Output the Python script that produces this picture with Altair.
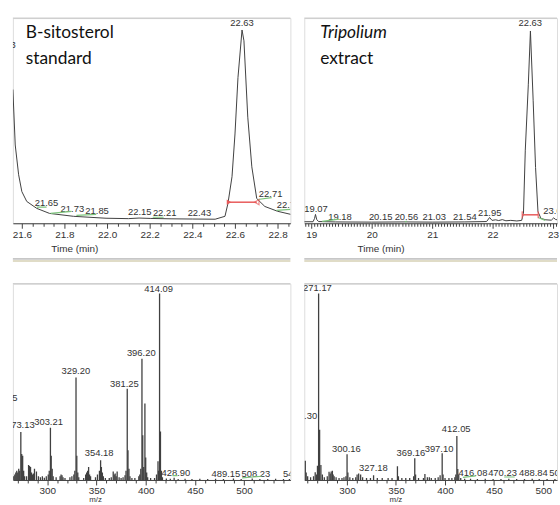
import altair as alt
import pandas as pd

# ---------------- data ----------------
# Top-left chromatogram (B-sitosterol standard): time (min), relative intensity (%)
tl_time = [21.558, 21.569, 21.585, 21.600, 21.623, 21.670, 21.730, 21.842, 21.995, 22.100, 22.150, 22.205,
           22.300, 22.400, 22.507, 22.553, 22.567, 22.586, 22.600, 22.614, 22.633, 22.642, 22.660, 22.679,
           22.702, 22.740, 22.800, 22.862]
tl_int = [69.2, 40.5, 25.1, 16.4, 11.3, 7.7, 5.1, 3.6, 2.6, 2.4, 2.7, 2.5,
          2.3, 2.2, 2.1, 3.6, 10.3, 24.1, 46.2, 75.4, 100.0, 94.4, 54.9, 29.2,
          12.8, 8.7, 6.2, 4.6]
tl_lbl_text = ["21.53", "21.65", "21.73", "21.85", "22.15", "22.21", "22.43", "22.63", "22.71", "22.77"]
tl_lbl_time = [21.516, 21.716, 21.837, 21.953, 22.153, 22.270, 22.433, 22.633, 22.767, 22.851]
tl_lbl_int = [92.3, 10.3, 7.5, 6.2, 5.6, 5.3, 5.3, 103.6, 15.0, 9.2]
tl_green_t1 = [21.670, 21.735, 21.856, 22.214, 22.707, 22.795]
tl_green_t2 = [21.716, 21.833, 21.949, 22.265, 22.772, 22.860]
tl_green_i1 = [8.4, 5.1, 4.1, 3.1, 12.3, 6.7]
tl_green_i2 = [8.4, 6.2, 4.6, 3.1, 13.3, 7.2]
tl_red = [22.572, 22.702, 10.9]

# Top-right chromatogram (Tripolium extract)
tr_time = [18.885, 19.030, 19.055, 19.070, 19.090, 19.120, 19.400, 20.000, 20.560, 21.000, 21.540, 21.900,
           21.950, 21.990, 22.050, 22.100, 22.160, 22.220, 22.300, 22.400, 22.480, 22.510, 22.540, 22.590,
           22.625, 22.670, 22.710, 22.750, 22.800, 22.880, 22.970, 23.010, 23.040, 23.066]
tr_int = [0.8, 0.8, 2.5, 4.6, 2.0, 0.9, 0.7, 0.6, 0.7, 0.6, 0.7, 0.9,
          3.0, 1.5, 1.8, 1.4, 1.9, 1.3, 1.5, 1.2, 1.5, 5.0, 38.0, 72.0,
          100.0, 64.0, 29.0, 6.0, 2.5, 1.8, 1.6, 2.8, 2.0, 1.8]
tr_lbl_text = ["19.07", "19.18", "20.15", "20.56", "21.03", "21.54", "21.95", "22.63", "23.03"]
tr_lbl_time = [19.078, 19.475, 20.148, 20.574, 21.033, 21.541, 21.951, 22.623, 23.033]
tr_lbl_int = [7.6, 3.1, 3.1, 3.1, 3.1, 3.1, 5.5, 104.1, 6.2]
tr_green_t1 = [19.18, 20.55, 22.754]
tr_green_t2 = [19.46, 20.58, 22.870]
tr_green_i1 = [1.0, 0.7, 3.0]
tr_green_i2 = [2.2, 1.2, 1.5]
tr_red = [22.490, 22.754, 4.4]

# Bottom-left mass spectrum (standard): m/z, relative abundance (%)
bl_mz = [266, 267, 268, 269, 270, 271, 272, 273.13, 274, 275, 276, 277, 279, 281, 282, 283, 284, 285, 286, 287,
         289, 291, 293, 295, 297, 299, 301, 302, 303.21, 304, 305, 306, 309, 313, 314, 315, 316, 318, 323, 325,
         327, 328, 329.20, 330, 331, 332, 337, 339, 340, 341, 342, 343, 344, 349, 351, 353, 354.18, 355, 356, 357,
         359, 363, 365, 367, 368, 369, 370, 371, 373, 375, 377, 379, 380, 381.25, 382, 383, 384, 386, 389, 393,
         394, 395, 396.20, 397, 398, 399.2, 400, 401, 402, 405, 409, 411, 412.5, 413, 414.09, 415, 416, 417, 421, 425,
         428.90, 433, 440, 447, 455, 463, 471, 479, 489.15, 497, 508.23, 516, 524, 532, 540, 546]
bl_ab = [2, 3, 4, 5, 4, 6, 5, 25.7, 14, 13, 5, 2, 2, 8, 7.5, 7, 4, 3, 3.5, 6,
         4.5, 2, 1.5, 2, 1.2, 2, 3, 5, 28, 13, 6, 2, 1.5, 2, 3, 2.5, 1.5, 1, 1.5, 2,
         3, 5, 55, 13, 4, 1.5, 1, 3, 4, 5, 7, 3, 2, 1.5, 3, 5, 10.6, 7, 4, 2,
         1, 1, 1.5, 4.5, 3, 3.5, 2, 4.5, 1.5, 1, 1.5, 2.5, 5, 49, 16, 6, 2, 1, 1, 2,
         3, 6, 65, 24, 7, 41, 12, 4, 1.5, 1, 1, 3, 10, 5, 100, 26, 5, 1.5, 0.8, 0.6,
         1.2, 0.5, 0.6, 0.5, 0.6, 0.5, 0.6, 0.5, 0.8, 0.5, 0.8, 0.5, 0.5, 0.6, 0.5, 0.5]
bl_lbl_text = ["255.25", "273.13", "303.21", "329.20", "354.18", "381.25", "396.20", "414.09", "428.90",
               "489.15", "508.23", "549.12"]
bl_lbl_mz = [255.0, 272.6, 301.3, 329.0, 352.7, 378.3, 395.5, 413.1, 430.7, 481.5, 512.0, 554.0]
bl_lbl_ab = [44.1, 29.3, 31.0, 58.5, 14.2, 51.6, 67.9, 102.5, 3.7, 3.2, 3.2, 3.2]
bl_green_m1 = [427.3, 498.0]
bl_green_m2 = [432.4, 518.0]
bl_green_a1 = [2.3, 1.1]
bl_green_a2 = [2.3, 2.0]

# Bottom-right mass spectrum (extract)
br_mz = [257.6, 258.5, 260, 263, 266, 267.7, 269, 270, 271.17, 272.2, 273.5, 275, 277, 280, 281.8, 283, 284, 285.2,
         286, 287, 289, 292, 295, 297, 299, 300.16, 301, 303, 306, 309, 310.4, 312, 314, 316, 320, 324, 327.18, 331,
         336, 342, 346, 351.5, 352.5, 356, 360, 364, 368, 369.16, 370, 373, 378, 379.5, 382, 384, 386, 390, 393,
         395, 397.10, 398, 400, 404, 407, 410, 411, 412.05, 413, 414, 416, 420, 426, 433, 441, 449, 457, 465, 473,
         481, 488.84, 496, 504, 512]
br_ab = [10.3, 4, 2, 1.5, 2, 4.2, 3, 7.6, 100, 27, 8, 3, 1.5, 2, 4.4, 3.5, 4.5, 5,
         3, 2, 1.5, 1, 1, 1.5, 2, 13.8, 4, 1.5, 1, 1.5, 3, 3.5, 3, 1.5, 1, 1, 2.5, 1,
         1, 1, 1, 7.3, 2, 1, 1, 1, 2, 11.7, 3, 1, 1, 3.2, 1.5, 1.5, 1, 1, 1.5,
         2.5, 14.4, 3, 1, 1, 1, 1.5, 3, 23.6, 5.9, 3, 1, 0.7, 0.6, 0.5, 0.6, 0.5, 0.5, 0.6, 0.5,
         0.5, 0.7, 0.5, 0.5, 0.5]
br_lbl_text = ["255.30", "271.17", "300.16", "327.18", "369.16", "397.10", "412.05", "416.08", "470.23",
               "488.84", "507.91"]
br_lbl_mz = [255.0, 270.0, 299.5, 327.0, 365.2, 393.9, 411.4, 428.5, 458.6, 490.0, 521.0]
br_lbl_ab = [34.2, 103.0, 16.8, 6.2, 14.7, 16.8, 27.1, 3.5, 3.5, 3.5, 3.5]
br_green_m1 = [418.2, 460.3, 517.0]
br_green_m2 = [431.3, 471.0, 524.0]
br_green_a1 = [1.4, 1.6, 1.6]
br_green_a2 = [2.2, 1.6, 1.6]

# ---------------- styling ----------------
SMALL = "Liberation Sans, Arial, sans-serif"
BIG = "Lato, Open Sans, sans-serif"
INK = "#404040"
BG = "#f0f0f0"
ONE = pd.DataFrame({"k": [0]})


def xscale(dom):
    return alt.Scale(domain=dom, nice=False, zero=False)


def major_axis(values, fmt, title, tx, ty, tbase, tsize):
    return alt.Axis(orient="bottom", values=values, format=fmt, title=title, titleX=tx, titleY=ty,
                    titleAlign="center", titleBaseline=tbase, titleFont=SMALL, titleFontSize=tsize,
                    titleFontWeight="normal", titleColor="#333333", labelFont=SMALL, labelFontSize=10,
                    labelColor="#333333", labelPadding=1, labelFlush=False, labelOverlap=False,
                    tickSize=5, tickColor=INK, domainColor=INK, grid=False)


def minor_axis(values):
    return alt.Axis(orient="bottom", values=values, labels=False, domain=False, title="",
                    tickSize=3, tickColor=INK, grid=False)


def panel(kind, xs, ys, dom, ymax, W, H, majors, minors, fmt, title, tx, ty, tbase, tsize,
          lbl, green, red, texts, separator):
    yscale = alt.Scale(domain=[0, ymax], nice=False, zero=False)
    df = pd.DataFrame({"x": xs, "y": ys})
    if kind == "line":
        main = alt.Chart(df).mark_line(color=INK, strokeWidth=1, clip=True).encode(
            x=alt.X("x:Q", scale=xscale(dom), axis=major_axis(majors, fmt, title, tx, ty, tbase, tsize)),
            y=alt.Y("y:Q", scale=yscale, axis=None))
    else:
        main = alt.Chart(df).mark_rule(color=INK, strokeWidth=1.3, clip=True).encode(
            x=alt.X("x:Q", scale=xscale(dom), axis=major_axis(majors, fmt, title, tx, ty, tbase, tsize)),
            y=alt.Y("y:Q", scale=yscale, axis=None),
            y2=alt.datum(0))
    ldf = pd.DataFrame({"x": lbl[1], "y": lbl[2], "t": lbl[0]})
    labels = alt.Chart(ldf).mark_text(font=SMALL, fontSize=9.5, color="#333333", clip=True,
                                      baseline="middle", align="center").encode(
        x=alt.X("x:Q", scale=xscale(dom), axis=minor_axis(minors)),
        y=alt.Y("y:Q", scale=yscale, axis=None),
        text="t:N")
    gdf = pd.DataFrame({"x1": green[0], "x2": green[1], "y1": green[2], "y2": green[3]})
    greens = alt.Chart(gdf).mark_rule(color="#7cc47c", strokeWidth=1.2, clip=True).encode(
        x=alt.X("x1:Q", scale=xscale(dom), axis=None), x2="x2:Q",
        y=alt.Y("y1:Q", scale=yscale, axis=None), y2="y2:Q")
    layers = [main, labels, greens]
    if red is not None:
        rdf = pd.DataFrame({"x1": [red[0]], "x2": [red[1]], "y": [red[2]]})
        layers.append(alt.Chart(rdf).mark_rule(color="#e85a5a", strokeWidth=1.5).encode(
            x=alt.X("x1:Q", scale=xscale(dom), axis=None), x2="x2:Q",
            y=alt.Y("y:Q", scale=yscale, axis=None)))
        edf = pd.DataFrame({"x": [red[0], red[1]], "y": [red[2], red[2]]})
        if red[2] > 8:
            layers.append(alt.Chart(edf.iloc[[0]]).mark_point(shape="triangle-right", filled=True,
                                                             color="#e85a5a", size=28, opacity=1).encode(
                x=alt.X("x:Q", scale=xscale(dom), axis=None), y=alt.Y("y:Q", scale=yscale, axis=None)))
            layers.append(alt.Chart(edf.iloc[[1]]).mark_point(shape="triangle-left", filled=False,
                                                             color="#e85a5a", size=28, strokeWidth=1.2).encode(
                x=alt.X("x:Q", scale=xscale(dom), axis=None), y=alt.Y("y:Q", scale=yscale, axis=None)))
        else:
            layers.append(alt.Chart(edf).mark_tick(orient="vertical", color="#e85a5a", size=7,
                                                   thickness=1.5).encode(
                x=alt.X("x:Q", scale=xscale(dom), axis=None), y=alt.Y("y:Q", scale=yscale, axis=None)))
    # top border of the panel window
    layers.append(alt.Chart(ONE).mark_rule(color="#c4c4c4", strokeWidth=1).encode(
        x=alt.value(0), x2=alt.value(W), y=alt.value(0)))
    if separator:
        layers.append(alt.Chart(ONE).mark_rule(color="#9a9a9a", strokeWidth=1).encode(
            x=alt.value(0), x2=alt.value(W), y=alt.value(243)))
        layers.append(alt.Chart(ONE).mark_rule(color="#d6d0b4", strokeWidth=1.5).encode(
            x=alt.value(0), x2=alt.value(W), y=alt.value(245)))
    for (txt, px, py, style) in texts:
        layers.append(alt.Chart(ONE).mark_text(text=txt, font=BIG, fontSize=17.5, fontStyle=style,
                                               color="#111111", align="left", baseline="alphabetic").encode(
            x=alt.value(px), y=alt.value(py)))
    return alt.layer(*layers).resolve_axis(x="independent").properties(width=W, height=H)


def frange(a, b, step, skip):
    out = []
    n = int(round((b - a) / step))
    for i in range(n + 1):
        v = round(a + i * step, 4)
        if all(abs(v - s) > 1e-6 for s in skip):
            out.append(v)
    return out


tl_major = [21.6, 21.8, 22.0, 22.2, 22.4, 22.6, 22.8]
tr_major = [19, 20, 21, 22, 23]
ms_major = [300, 350, 400, 450, 500]

tl = panel("line", tl_time, tl_int, [21.558, 22.860], 106.15, 280, 207,
           tl_major, frange(21.6, 22.85, 0.05, tl_major), ".1f", "Time (min)", 62, 28, "alphabetic", 10,
           (tl_lbl_text, tl_lbl_time, tl_lbl_int),
           (tl_green_t1, tl_green_t2, tl_green_i1, tl_green_i2), tl_red,
           [("B-sitosterol", 13, 20, "normal"), ("standard", 13, 46, "normal")], True)

tr = panel("line", tr_time, tr_int, [18.885, 23.065], 106.7, 255, 207,
           tr_major, frange(18.9, 23.05, 0.05, tr_major), "d", "Time (min)", 77, 28, "alphabetic", 10,
           (tr_lbl_text, tr_lbl_time, tr_lbl_int),
           (tr_green_t1, tr_green_t2, tr_green_i1, tr_green_i2), tr_red,
           [("Tripolium", 16, 20, "italic"), ("extract", 16, 46, "normal")], True)

bl = panel("stick", bl_mz, bl_ab, [265.06, 547.03], 105.3, 280, 198,
           ms_major, frange(270, 540, 10, ms_major), "d", "m/z", 83, 16, "top", 8,
           (bl_lbl_text, bl_lbl_mz, bl_lbl_ab),
           (bl_green_m1, bl_green_m2, bl_green_a1, bl_green_a2), None, [], False)

br = panel("stick", br_mz, br_ab, [256.57, 514.14], 105.3, 255, 198,
           ms_major, frange(260, 510, 10, ms_major), "d", "m/z", 92, 16, "top", 8,
           (br_lbl_text, br_lbl_mz, br_lbl_ab),
           (br_green_m1, br_green_m2, br_green_a1, br_green_a2), None, [], False)

chart = alt.concat(tl, tr, bl, br, columns=2, spacing=alt.RowColnumber(row=61, column=14),
                   bounds="flush").properties(
    padding={"left": 11, "top": 15, "right": 0, "bottom": 0}
).configure_view(fill=BG, stroke=None).configure(background="white")

chart.save("out.html", embed_options={"renderer": "svg", "actions": False})
